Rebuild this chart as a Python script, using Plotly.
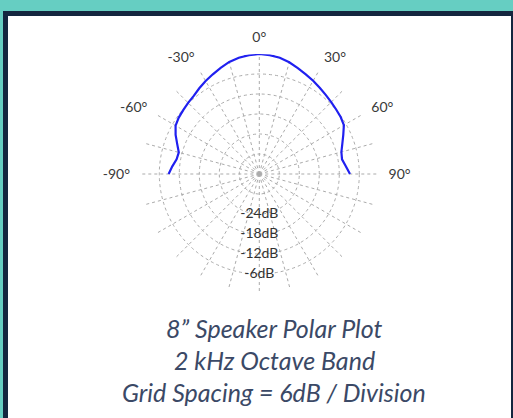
import plotly.graph_objects as go

# ---- data ----
angles_deg = [-90, -85, -80, -75, -70, -65, -60, -55, -50, -45, -40, -35, -30, -25, -20, -15, -10, -5,
              0, 5, 10, 15, 20, 25, 30, 35, 40, 45, 50, 55, 60, 65, 70, 75, 80, 85, 90]
level_db = [-8.8, -9.8, -10.8, -11.0, -9.8, -8.3, -7.0, -6.5, -6.2, -5.8, -5.4, -4.6, -3.8, -3.0, -2.1, -1.2, -0.6, -0.2,
            0.0, -0.2, -0.6, -1.3, -2.2, -3.0, -3.7, -4.4, -5.0, -5.5, -5.9, -6.2, -6.7, -8.2, -9.5, -10.5, -10.8, -9.9, -8.8]

grid_angles = list(range(0, 360, 15))
angle_labels = {0: "0°", 30: "30°", 60: "60°", 90: "90°", 270: "-90°", 300: "-60°", 330: "-30°"}
ring_values = [-30, -24, -18, -12, -6, 0]
db_label_values = [-24, -18, -12, -6]
db_label_text = ["-24dB", "-18dB", "-12dB", "-6dB"]
caption_lines = ["8\u201d Speaker Polar Plot", "2 kHz Octave Band", "Grid Spacing = 6dB / Division"]

W, H = 513, 418
fig = go.Figure()

fig.add_trace(go.Scatterpolar(
    theta=angles_deg, r=level_db, mode="lines",
    line=dict(color="#2020f0", width=2.2), showlegend=False, hoverinfo="skip"))

fig.add_trace(go.Scatterpolar(
    theta=[180] * len(db_label_values), r=db_label_values, mode="text",
    text=db_label_text, textposition="middle center",
    textfont=dict(family="Lato", size=14, color="#333333"),
    showlegend=False, hoverinfo="skip"))

cx, cy, R = 259.3, 174.0, 120.0
fig.update_layout(
    width=W, height=H,
    margin=dict(l=0, r=0, t=0, b=0),
    paper_bgcolor="#66cec2",
    plot_bgcolor="white",
    polar=dict(
        domain=dict(x=[(cx - R) / W, (cx + R) / W], y=[1 - (cy + R) / H, 1 - (cy - R) / H]),
        bgcolor="white",
        angularaxis=dict(
            rotation=90, direction="clockwise",
            tickmode="array", tickvals=grid_angles,
            ticktext=[angle_labels.get(a, "") for a in grid_angles],
            showgrid=True, gridcolor="#ababab", griddash="dot", gridwidth=1,
            showline=False,
            ticks="outside", ticklen=6, tickcolor="rgba(0,0,0,0)",
            tickfont=dict(family="Lato", size=14, color="#3a3a3a"),
        ),
        radialaxis=dict(
            range=[-36, 0], tickmode="array", tickvals=ring_values,
            showticklabels=False, ticks="", showline=False,
            showgrid=True, gridcolor="#ababab", griddash="dot", gridwidth=1,
        ),
    ),
    shapes=[
        dict(type="rect", xref="paper", yref="paper", x0=3 / W, x1=1, y0=0, y1=1 - 11 / H,
             fillcolor="#14263f", line=dict(width=0), layer="below"),
        dict(type="rect", xref="paper", yref="paper", x0=8 / W, x1=511 / W, y0=0, y1=1 - 16 / H,
             fillcolor="white", line=dict(width=0), layer="below"),
    ],
)

for txt, ypx in zip(caption_lines, [328, 360, 392]):
    fig.add_annotation(
        xref="paper", yref="paper", x=274 / W, y=1 - ypx / H,
        text="<i>" + txt + "</i>", showarrow=False, xanchor="center", yanchor="middle",
        font=dict(family="Lato", size=25, color="#3b4966"))

fig.write_html("out.html", config={"displayModeBar": False},
               post_script="document.body.style.margin='0px';")
